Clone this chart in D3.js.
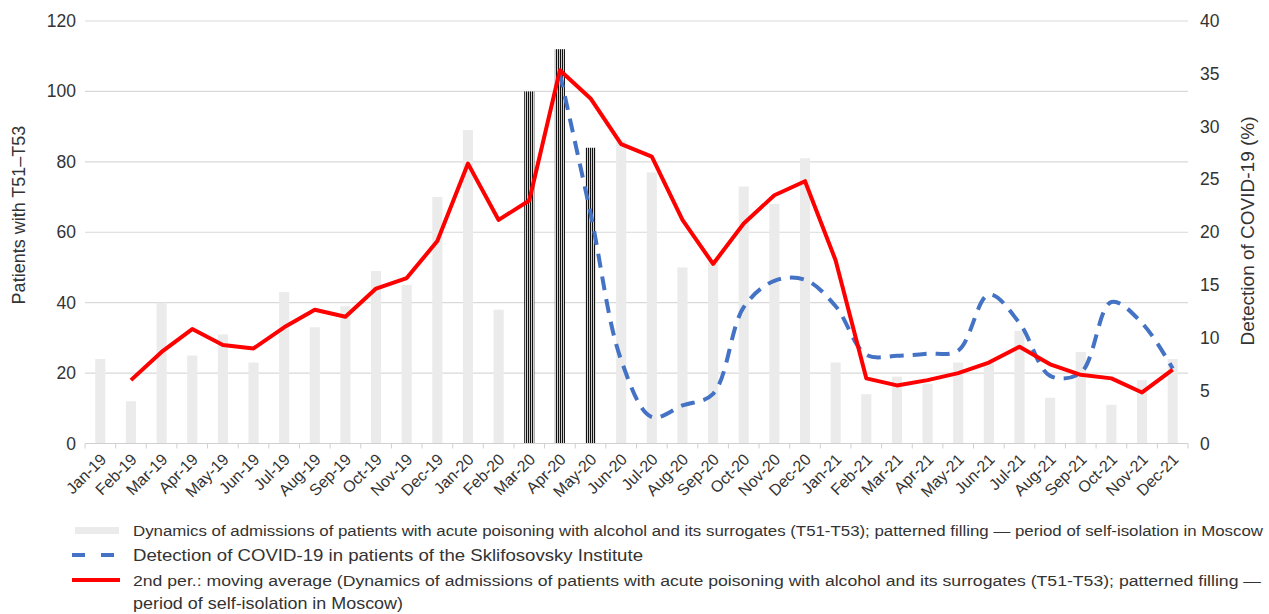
<!DOCTYPE html>
<html>
<head>
<meta charset="utf-8">
<script src="https://cdn.jsdelivr.net/npm/d3@7"></script>
<style>
  body { margin: 0; background: #fff; }
  svg { font-family: "Liberation Sans", Arial, sans-serif; }
</style>
</head>
<body>
<div id="chart"></div>
<script>
// month labels
var months = ["Jan-19","Feb-19","Mar-19","Apr-19","May-19","Jun-19","Jul-19","Aug-19","Sep-19","Oct-19","Nov-19","Dec-19",
              "Jan-20","Feb-20","Mar-20","Apr-20","May-20","Jun-20","Jul-20","Aug-20","Sep-20","Oct-20","Nov-20","Dec-20",
              "Jan-21","Feb-21","Mar-21","Apr-21","May-21","Jun-21","Jul-21","Aug-21","Sep-21","Oct-21","Nov-21","Dec-21"];

// admissions T51-T53 (bars)
var admissions = [24,12,40,25,31,23,43,33,39,49,45,70,
                  89,38,100,112,84,86,77,50,52,73,68,81,
                  23,14,19,17,23,23,32,13,26,11,18,24];

// months of self-isolation (patterned bars)
var isolation = ["Mar-20","Apr-20","May-20"];

// 2nd per. moving average (red line), null where not drawn
var movingAvg = [null,18,26,32.5,28,27,33,38,36,44,47,57.5,
                 79.5,63.5,69,106,98,85,81.5,63.5,51,62.5,70.5,74.5,
                 52,18.5,16.5,18,20,23,27.5,22.5,19.5,18.5,14.5,21];

// COVID-19 detection, % (blue dashed line)
var covid = [null,null,null,null,null,null,null,null,null,null,null,null,
             null,null,null,35,21.8,7.9,2.5,3.6,4.7,12.9,15.4,15.5,
             13,8.4,8.3,8.5,8.8,14.1,11.4,6.4,6.7,13.4,11.4,7.1];

var leftTicks = [0,20,40,60,80,100,120];
var rightTicks = [0,5,10,15,20,25,30,35,40];

var legendItems = [
  "Dynamics of admissions of patients with acute poisoning with alcohol and its surrogates (T51-T53); patterned filling \u2014 period of self-isolation in Moscow",
  "Detection of COVID-19 in patients of the Sklifosovsky Institute",
  "2nd per.: moving average (Dynamics of admissions of patients with acute poisoning with alcohol and its surrogates (T51-T53); patterned filling \u2014",
  "period of self-isolation in Moscow)"
];

var W = 1269, H = 614;
var plotLeft = 85, plotRight = 1188, plotTop = 21, plotBottom = 443.5;

var svg = d3.select("#chart").append("svg")
  .attr("width", W).attr("height", H);

// striped pattern for self-isolation bars
var defs = svg.append("defs");
var pat = defs.append("pattern")
  .attr("id", "stripes")
  .attr("patternUnits", "userSpaceOnUse")
  .attr("width", 2).attr("height", 4);
pat.append("rect").attr("width", 2).attr("height", 4).attr("fill", "#d0d0d0");
pat.append("rect").attr("width", 1).attr("height", 4).attr("fill", "#111");

var x = d3.scaleBand().domain(months).range([plotLeft, plotRight]).paddingInner(0.67).paddingOuter(0.335);
var yL = d3.scaleLinear().domain([0, 120]).range([plotBottom, plotTop]);
var yR = d3.scaleLinear().domain([0, 40]).range([plotBottom, plotTop]);

// gridlines
svg.append("g")
  .selectAll("line")
  .data(leftTicks)
  .enter().append("line")
  .attr("x1", plotLeft).attr("x2", plotRight)
  .attr("y1", d => yL(d)).attr("y2", d => yL(d))
  .attr("stroke", "#d9d9d9").attr("stroke-width", 1.2);

// left axis labels
svg.append("g")
  .selectAll("text")
  .data(leftTicks)
  .enter().append("text")
  .attr("x", 76).attr("y", d => yL(d) + 6)
  .attr("text-anchor", "end")
  .attr("font-size", 17.5).attr("fill", "#333")
  .text(d => d);

// right axis labels
svg.append("g")
  .selectAll("text")
  .data(rightTicks)
  .enter().append("text")
  .attr("x", 1200).attr("y", d => yR(d) + 6)
  .attr("text-anchor", "start")
  .attr("font-size", 17.5).attr("fill", "#333")
  .text(d => d);

// axis titles
svg.append("text")
  .attr("transform", "translate(25,215) rotate(-90)")
  .attr("text-anchor", "middle")
  .attr("font-size", 18).attr("fill", "#333")
  .text("Patients with T51\u2013T53");

svg.append("text")
  .attr("transform", "translate(1254,231) rotate(-90)")
  .attr("text-anchor", "middle")
  .attr("font-size", 19).attr("fill", "#333")
  .text("Detection of COVID-19 (%)");

// bars
svg.append("g")
  .selectAll("rect")
  .data(months)
  .enter().append("rect")
  .attr("x", d => x(d))
  .attr("width", x.bandwidth())
  .attr("y", (d, i) => yL(admissions[i]))
  .attr("height", (d, i) => yL(0) - yL(admissions[i]))
  .attr("fill", d => isolation.includes(d) ? "url(#stripes)" : "#ebebeb");

// x axis line and ticks between categories
var step = x.step();
svg.append("line")
  .attr("x1", plotLeft).attr("x2", plotRight)
  .attr("y1", plotBottom).attr("y2", plotBottom)
  .attr("stroke", "#d0d0d0").attr("stroke-width", 1.2);
svg.append("g")
  .selectAll("line")
  .data(d3.range(months.length + 1))
  .enter().append("line")
  .attr("x1", i => plotLeft + i * step).attr("x2", i => plotLeft + i * step)
  .attr("y1", plotBottom).attr("y2", plotBottom + 5)
  .attr("stroke", "#d0d0d0").attr("stroke-width", 1);

// x labels
svg.append("g")
  .selectAll("text")
  .data(months)
  .enter().append("text")
  .attr("transform", d => "translate(" + (x(d) + x.bandwidth() / 2 - 1) + "," + (plotBottom + 9) + ") rotate(-45)")
  .attr("text-anchor", "end")
  .attr("dy", "0.7em")
  .attr("font-size", 16).attr("fill", "#333")
  .text(d => d);

// covid line (smoothed, dashed)
var covidLine = d3.line()
  .defined(d => d != null)
  .x((d, i) => x(months[i]) + x.bandwidth() / 2)
  .y(d => yR(d))
  .curve(d3.curveCatmullRom.alpha(0.5));

svg.append("path")
  .datum(covid)
  .attr("d", covidLine)
  .attr("fill", "none")
  .attr("stroke", "#4472c4")
  .attr("stroke-width", 4)
  .attr("stroke-dasharray", "14,9");

// moving average line
var avgLine = d3.line()
  .defined(d => d != null)
  .x((d, i) => x(months[i]) + x.bandwidth() / 2)
  .y(d => yL(d));

svg.append("path")
  .datum(movingAvg)
  .attr("d", avgLine)
  .attr("fill", "none")
  .attr("stroke", "#ff0000")
  .attr("stroke-width", 4)
  .attr("stroke-linejoin", "round");

// legend
var lg = svg.append("g");
lg.append("rect").attr("x", 75).attr("y", 527).attr("width", 44).attr("height", 7).attr("fill", "#ebebeb");
lg.append("line").attr("x1", 72).attr("x2", 120).attr("y1", 555).attr("y2", 555)
  .attr("stroke", "#4472c4").attr("stroke-width", 4).attr("stroke-dasharray", "13,16");
lg.append("line").attr("x1", 72).attr("x2", 120).attr("y1", 580).attr("y2", 580)
  .attr("stroke", "#ff0000").attr("stroke-width", 4);

var legendY = [536, 561, 586, 609];
var legendLen = [1130, 510, 1128, 270];
var legendSize = [15.5, 17, 15.5, 17];
lg.selectAll("text.leg")
  .data(legendItems)
  .enter().append("text")
  .attr("class", "leg")
  .attr("x", 133)
  .attr("y", (d, i) => legendY[i])
  .attr("font-size", (d, i) => legendSize[i]).attr("fill", "#333")
  .attr("textLength", (d, i) => legendLen[i])
  .attr("lengthAdjust", "spacingAndGlyphs")
  .text(d => d);
</script>
</body>
</html>
